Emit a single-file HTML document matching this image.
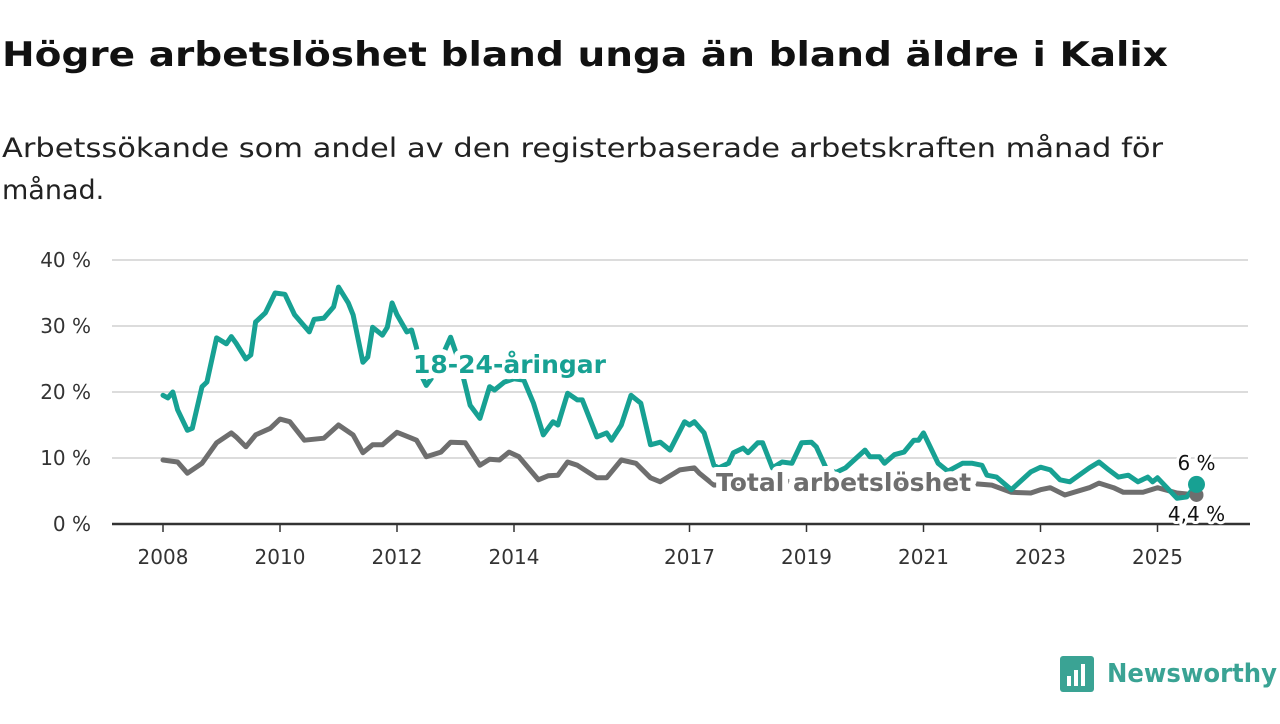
<!DOCTYPE html>
<html><head><meta charset="utf-8"><style>
body{margin:0;width:1280px;height:720px;background:#fff;overflow:hidden;font-family:"DejaVu Sans","Liberation Sans",sans-serif;}
svg text{font-family:"DejaVu Sans","Liberation Sans",sans-serif;}
</style></head><body>
<svg width="1280" height="720">
<text x="2" y="66" font-size="34" font-weight="bold" fill="#111" textLength="1166" lengthAdjust="spacingAndGlyphs">Högre arbetslöshet bland unga än bland äldre i Kalix</text>
<text x="2" y="157" font-size="27" fill="#222" textLength="1161" lengthAdjust="spacingAndGlyphs">Arbetssökande som andel av den registerbaserade arbetskraften månad för</text>
<text x="2" y="199" font-size="27" fill="#222">månad.</text>
<g id="grid"></g><g id="series"></g><g id="labels"></g>
<g>
<rect x="1060" y="656" width="34" height="36" rx="3" fill="#3aa394"/>
<rect x="1067" y="676" width="4" height="10" fill="#fff"/><rect x="1074" y="670" width="4" height="16" fill="#fff"/><rect x="1081" y="664" width="4" height="22" fill="#fff"/>
<text x="1107" y="682" font-size="26" font-weight="600" fill="#3aa394" textLength="170" lengthAdjust="spacingAndGlyphs">Newsworthy</text>
</g>
</svg>
<script>
const yTicks=[0,10,20,30,40];
const xTickYears=[2008,2010,2012,2014,2017,2019,2021,2023,2025];
const youthMonths=[0,1,2,3,5,6,8,9,11,13,14,15,17,18,19,21,23,25,27,30,31,33,35,36,38,39,41,42,43,45,46,47,48,50,51,52,53,54,55,57,59,61,62,63,65,67,68,70,72,74,76,78,80,81,83,85,86,89,91,92,94,96,98,100,102,104,107,108,109,111,113,114,116,117,119,120,122,123,125,127,129,131,133,134,136,138,140,144,145,147,148,150,152,154,155,156,159,161,164,166,168,169,171,174,178,180,182,184,186,190,192,194,196,198,200,202,203,204,208,210,212];
const youthValues=[19.5,19.1,20,17.3,14.2,14.5,20.8,21.5,28.2,27.3,28.4,27.4,25,25.6,30.6,32,35,34.8,31.7,29.1,31,31.2,32.9,35.9,33.5,31.7,24.5,25.3,29.8,28.6,29.8,33.5,31.7,29.1,29.4,26.7,22.5,21,22,25,28.3,24,21,18,16,20.8,20.3,21.5,22,21.8,18.3,13.5,15.5,15,19.8,18.8,18.8,13.2,13.8,12.7,15,19.5,18.3,12,12.4,11.2,15.5,15,15.5,13.8,8.9,8.5,9.2,10.8,11.5,10.8,12.3,12.3,8.5,9.4,9.2,12.3,12.4,11.7,8.5,7.8,8.5,11.2,10.2,10.2,9.2,10.5,10.9,12.7,12.7,13.8,9.2,8,9.2,9.2,8.9,7.4,7.1,5.2,7.9,8.6,8.2,6.7,6.4,8.5,9.4,8.2,7.1,7.4,6.4,7.1,6.4,7,3.9,4.1,6];
const totalMonths=[0,3,5,8,11,14,15,17,19,22,24,26,29,33,36,39,41,43,45,48,51,52,54,57,59,62,65,67,69,71,73,77,79,81,83,85,89,91,94,97,100,102,106,109,110,113,120,130,140,150,160,170,174,178,180,182,185,190,192,195,197,201,204,208,212];
const totalValues=[9.7,9.4,7.7,9.2,12.3,13.8,13.2,11.7,13.5,14.5,15.9,15.5,12.7,13,15,13.5,10.8,12,12,13.9,13,12.7,10.2,10.9,12.4,12.3,8.9,9.8,9.7,10.9,10.2,6.7,7.3,7.4,9.4,8.9,7,7,9.7,9.2,7,6.4,8.2,8.5,7.7,5.9,6.2,6.5,5.8,6.3,6.5,5.9,4.8,4.7,5.2,5.5,4.4,5.5,6.2,5.5,4.8,4.8,5.5,4.7,4.4];
const NS="http://www.w3.org/2000/svg";
const x0=163,pxPerMonth=4.875,yBase=524,pxPerPct=6.6;
const X=m=>x0+m*pxPerMonth, Y=v=>yBase-v*pxPerPct, XY=y=>X((y-2008)*12);
function mk(tag,attrs,parent,txt){const e=document.createElementNS(NS,tag);for(const k in attrs)e.setAttribute(k,attrs[k]);if(txt!==undefined)e.textContent=txt;parent.appendChild(e);return e;}
const grid=document.getElementById('grid');
yTicks.forEach(t=>{
 if(t>0){const l=mk('line',{x1:112,x2:1248,y1:Y(t),y2:Y(t),stroke:'#dcdcdc','stroke-width':2},grid);
 
 }
 const tx=mk('text',{x:91,y:Y(t)+7,'font-size':20,fill:'#333','text-anchor':'end'},grid,t+' %');
 
 
});
xTickYears.forEach(yr=>{
 const tk=mk('line',{x1:XY(yr),x2:XY(yr),y1:yBase,y2:yBase+8,stroke:'#333','stroke-width':1.5},grid);
 
 
 const tx=mk('text',{x:XY(yr),y:564,'font-size':20,fill:'#333','text-anchor':'middle'},grid,yr);
 
 
});
const ax=mk('line',{x1:112,x2:1250,y1:yBase,y2:yBase,stroke:'#333','stroke-width':2.5},grid);


const ser=document.getElementById('series');
function line(ms,vs,col,name){const d=ms.map((m,i)=>(i?'L':'M')+X(m).toFixed(1)+' '+Y(vs[i]).toFixed(1)).join(' ');
 const p=mk('path',{d:d,fill:'none',stroke:col,'stroke-width':5,'stroke-linejoin':'round','stroke-linecap':'round'},ser);
 
 }
line(totalMonths,totalValues,'#6e6e6e','total-line');
line(youthMonths,youthValues,'#17a193','youth-line');
const lab=document.getElementById('labels');
const lt=youthMonths.length-1, tt=totalMonths.length-1;
const tdot=mk('circle',{cx:X(totalMonths[tt]),cy:Y(totalValues[tt]),r:7,fill:'#6e6e6e'},lab);


const ydot=mk('circle',{cx:X(youthMonths[lt]),cy:Y(youthValues[lt]),r:8.5,fill:'#17a193'},lab);


function label(x,y,txt,col,size,bold,name,anchor,sw){const t=mk('text',{x:x,y:y,'font-size':size,'font-weight':bold?'bold':'normal',fill:col,stroke:'#fff','stroke-width':sw,'paint-order':'stroke','stroke-linejoin':'round','text-anchor':anchor||'start'},lab,txt);
 
 return t;}
label(413,373,'18-24-åringar','#17a193',25,true,'youth-series-label','start',12);
label(716,491,'Total arbetslöshet','#6e6e6e',25,true,'total-series-label','start',12);
label(X(youthMonths[lt]),470,'6 %','#111',20,false,'youth-end-value','middle',6);
label(X(totalMonths[tt]),521,'4,4 %','#111',20,false,'total-end-value','middle',6);
</script>
</body></html>
